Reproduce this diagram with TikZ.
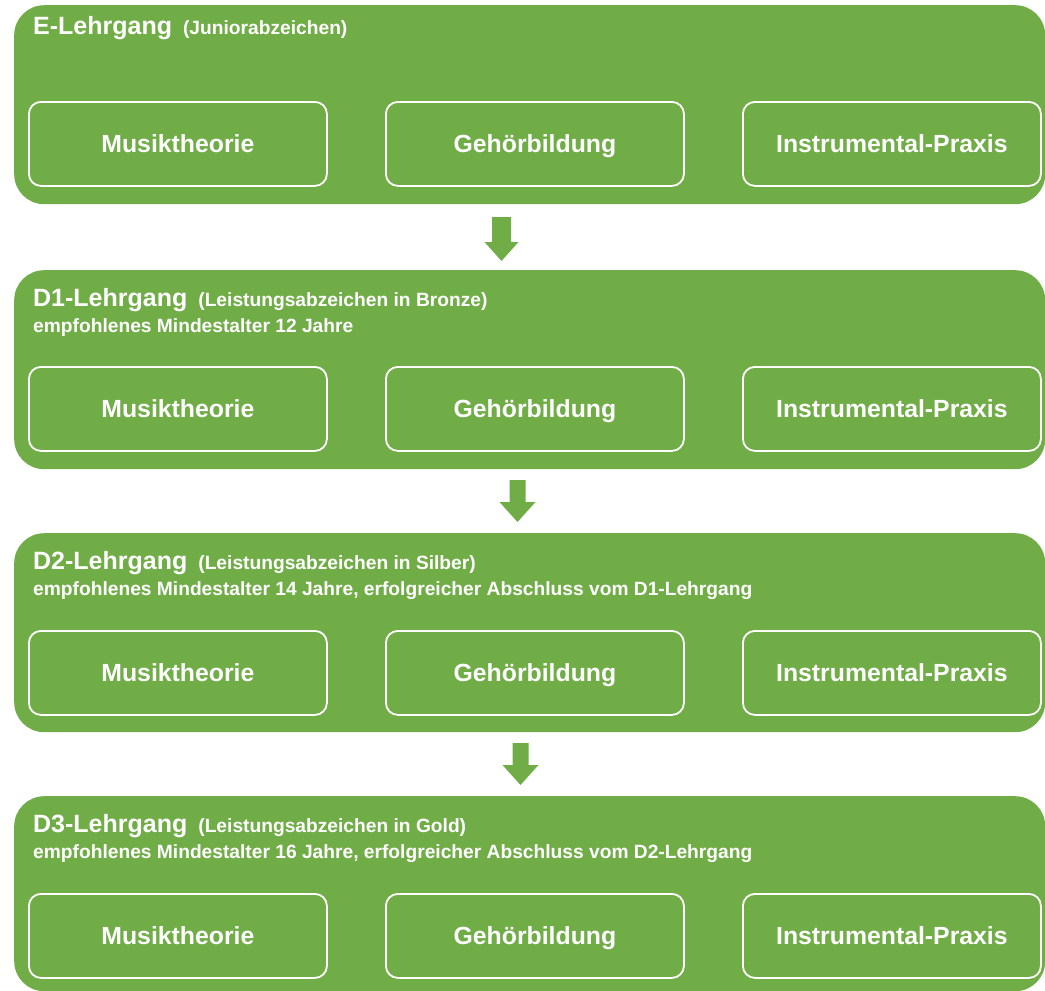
\documentclass[tikz,border=0pt]{standalone}
\usepackage{fontspec}
\setmainfont{Liberation Sans}
\definecolor{grn}{RGB}{112,173,71}
\begin{document}
\begin{tikzpicture}[x=1pt,y=-1pt,
  outer/.style={fill=grn, rounded corners=30pt, draw=none, anchor=north west,
    minimum width=1031pt, inner sep=0pt},
  inner/.style={draw=white, line width=1.8pt, rounded corners=12pt, anchor=north west,
    minimum width=298pt, minimum height=84pt, inner sep=0pt, text=white,
    text height=22pt, text depth=4pt,
    font=\bfseries\fontsize{24.8}{28}\selectfont},
  ttl/.style={anchor=base west, inner sep=0pt, text=white,
    font=\bfseries\fontsize{25}{28}\selectfont},
  sub/.style={anchor=base west, inner sep=0pt, text=white,
    font=\bfseries\fontsize{19.2}{22}\selectfont},
  blk/.style={fill=grn}
]
\useasboundingbox (0,0) rectangle (1045,991);

% ---------- E ----------
\node[outer, minimum height=199pt] (E) at (14,5) {};
\node[ttl] (Et) at (33,34) {E-Lehrgang\hspace{11pt}{\fontsize{19.2}{22}\selectfont(Juniorabzeichen)}};
\node[inner] (E1) at (28,101) {Musiktheorie};
\node[inner] (E2) at (385,101) {Gehörbildung};
\node[inner] (E3) at (742,101) {Instrumental-Praxis};

% ---------- D1 ----------
\node[outer, minimum height=199pt] (D1) at (14,270) {};
\node[ttl] (D1t) at (33,306) {D1-Lehrgang\hspace{11pt}{\fontsize{19.2}{22}\selectfont(Leistungsabzeichen in Bronze)}};
\node[sub] (D1s) at (33,332) {empfohlenes Mindestalter 12 Jahre};
\node[inner] (D11) at (28,366) {Musiktheorie};
\node[inner] (D12) at (385,366) {Gehörbildung};
\node[inner] (D13) at (742,366) {Instrumental-Praxis};

% ---------- D2 ----------
\node[outer, minimum height=199pt] (D2) at (14,533) {};
\node[ttl] (D2t) at (33,569) {D2-Lehrgang\hspace{11pt}{\fontsize{19.2}{22}\selectfont(Leistungsabzeichen in Silber)}};
\node[sub] (D2s) at (33,595) {empfohlenes Mindestalter 14 Jahre, erfolgreicher Abschluss vom D1-Lehrgang};
\node[inner] (D21) at (28,630) {Musiktheorie};
\node[inner] (D22) at (385,630) {Gehörbildung};
\node[inner] (D23) at (742,630) {Instrumental-Praxis};

% ---------- D3 ----------
\node[outer, minimum height=195pt] (D3) at (14,796) {};
\node[ttl] (D3t) at (33,832) {D3-Lehrgang\hspace{11pt}{\fontsize{19.2}{22}\selectfont(Leistungsabzeichen in Gold)}};
\node[sub] (D3s) at (33,858) {empfohlenes Mindestalter 16 Jahre, erfolgreicher Abschluss vom D2-Lehrgang};
\node[inner] (D31) at (28,893) {Musiktheorie};
\node[inner] (D32) at (385,893) {Gehörbildung};
\node[inner] (D33) at (742,893) {Instrumental-Praxis};

% ---------- arrows ----------
\coordinate (a1) at (501.5,217);
\fill[blk] (a1) ++(-9.5,0) -- ++(19,0) -- ++(0,25) -- ++(7.5,0) -- ++(-17,19) -- ++(-17,-19) -- ++(7.5,0) -- cycle;
\coordinate (a2) at (517.5,480);
\fill[blk] (a2) ++(-8,0) -- ++(16,0) -- ++(0,22) -- ++(10,0) -- ++(-18,20) -- ++(-18,-20) -- ++(10,0) -- cycle;
\coordinate (a3) at (520.5,743);
\fill[blk] (a3) ++(-8,0) -- ++(16,0) -- ++(0,22) -- ++(10,0) -- ++(-18,20) -- ++(-18,-20) -- ++(10,0) -- cycle;
\end{tikzpicture}
\end{document}
